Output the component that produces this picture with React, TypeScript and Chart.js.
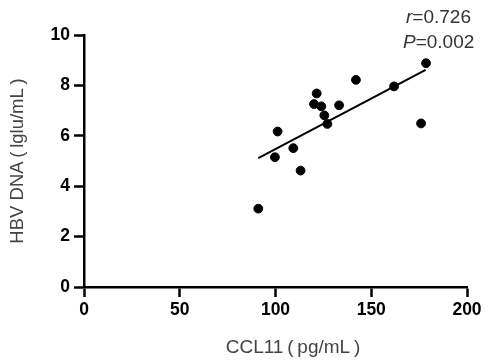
import React, { useEffect, useRef } from "react";
import { Chart, registerables } from "chart.js";

Chart.register(...registerables);

const ccl11 = [91.0, 99.7, 101.1, 109.3, 113.1, 120.1, 121.5, 123.9, 125.5, 127.1, 133.2, 142.0, 161.9, 176.0, 178.6];
const hbvDna = [3.11, 5.15, 6.17, 5.51, 4.62, 7.26, 7.68, 7.17, 6.81, 6.47, 7.21, 8.22, 7.96, 6.49, 8.88];
const fitX = [91.0, 178.4];
const fitY = [5.11, 8.62];
const xTicks = [0, 50, 100, 150, 200];
const yTicks = [0, 2, 4, 6, 8, 10];
const xTitle = "CCL11\u2009(\u2009pg/mL\u2009)";
const yTitle = "HBV DNA\u2009(\u2009lglu/mL\u2009)";
const statsLines = [
  { sym: "r", text: "=0.726" },
  { sym: "P", text: "=0.002" },
];

const FONT = "'Liberation Sans', Arial, sans-serif";

const textPlugin = {
  id: "texts",
  afterDraw(chart: any) {
    const ctx = chart.ctx;
    ctx.save();
    ctx.fillStyle = "#333";
    ctx.textBaseline = "middle";
    const xs = [406, 403];
    const ys = [18, 43];
    statsLines.forEach((l, i) => {
      ctx.font = `italic 19px ${FONT}`;
      ctx.textAlign = "left";
      ctx.fillText(l.sym, xs[i], ys[i]);
      const w = ctx.measureText(l.sym).width;
      ctx.font = `19px ${FONT}`;
      ctx.fillText(l.text, xs[i] + w, ys[i]);
    });
    ctx.fillStyle = "#444";
    ctx.font = `19px ${FONT}`;
    ctx.textAlign = "center";
    ctx.fillText(xTitle, 293, 348);
    ctx.restore();
  },
};

export default function App() {
  const ref = useRef<HTMLCanvasElement>(null);
  useEffect(() => {
    if (!ref.current) return;
    const chart = new Chart(ref.current, {
      type: "scatter",
      data: {
        datasets: [
          {
            data: ccl11.map((x, i) => ({ x, y: hbvDna[i] })),
            backgroundColor: "#000",
            borderColor: "#000",
            pointRadius: 4.4,
            pointHoverRadius: 4.4,
            clip: false as any,
          },
          {
            data: fitX.map((x, i) => ({ x, y: fitY[i] })),
            showLine: true,
            borderColor: "#000",
            borderWidth: 2,
            pointRadius: 0,
            clip: false as any,
          },
        ],
      },
      options: {
        animation: false,
        responsive: false,
        layout: { padding: { left: 0, right: 22, top: 35, bottom: 0 } },
        plugins: { legend: { display: false }, tooltip: { enabled: false } },
        scales: {
          x: {
            type: "linear",
            min: 0,
            max: 200,
            afterBuildTicks: (s: any) => {
              s.ticks = xTicks.map((v) => ({ value: v }));
            },
            afterFit: (s: any) => {
              s.height = 73;
            },
            border: { color: "#000", width: 2.5 },
            grid: { drawOnChartArea: false, drawTicks: true, tickLength: 10, tickWidth: 2.5, tickColor: "#000" } as any,
            ticks: {
              color: "#000",
              font: { family: FONT, size: 17.5, weight: "bold" },
              padding: 3,
              maxRotation: 0,
            },
            title: { display: false },
          },
          y: {
            type: "linear",
            min: 0,
            max: 10,
            afterBuildTicks: (s: any) => {
              s.ticks = yTicks.map((v) => ({ value: v }));
            },
            afterFit: (s: any) => {
              s.width = 84;
            },
            border: { color: "#000", width: 2.5 },
            grid: { drawOnChartArea: false, drawTicks: true, tickLength: 10, tickWidth: 2.5, tickColor: "#000" } as any,
            ticks: {
              color: "#000",
              font: { family: FONT, size: 17.5, weight: "bold" },
              padding: 4,
            },
            title: {
              display: true,
              text: yTitle,
              color: "#444",
              font: { family: FONT, size: 18.5 },
              padding: { top: 7, bottom: 4 },
            },
          },
        },
      },
      plugins: [textPlugin],
    });
    return () => chart.destroy();
  }, []);
  return (
    <div style={{ position: "absolute", left: 0, top: 0, width: 489, height: 360, background: "#fff" }}>
      <canvas ref={ref} width={489} height={360} style={{ width: 489, height: 360 }} />
    </div>
  );
}
